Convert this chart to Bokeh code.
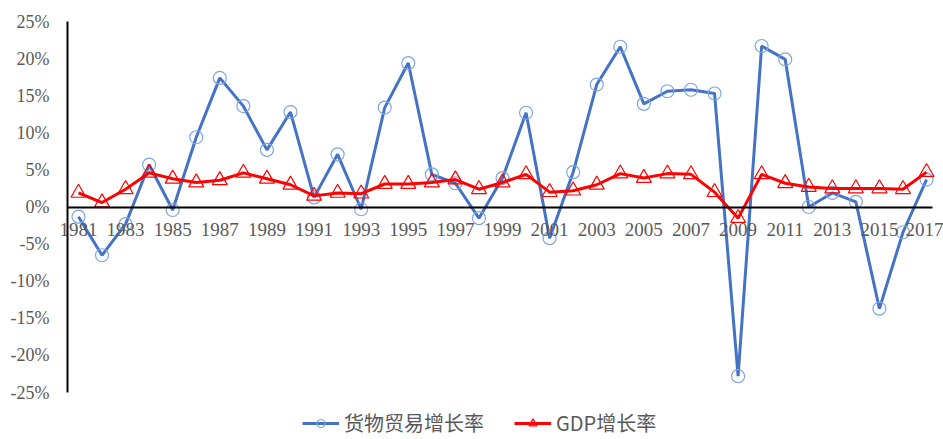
from bokeh.plotting import figure
from bokeh.models import FixedTicker, PrintfTickFormatter, Legend, LegendItem
from bokeh.embed import file_html
from bokeh.resources import INLINE

years = list(range(1981, 2018))
trade_growth = [-1.3, -6.5, -2.3, 5.7, -0.4, 9.4, 17.4, 13.6, 7.7, 12.8,
                1.3, 7.1, -0.3, 13.4, 19.4, 4.4, 3.2, -1.5, 3.9, 12.7,
                -4.2, 4.7, 16.5, 21.6, 13.9, 15.6, 15.8, 15.3, -22.8, 21.7,
                19.9, 0.0, 1.9, 0.7, -13.7, -3.4, 3.7]
gdp_growth = [1.9, 0.6, 2.4, 4.6, 3.8, 3.3, 3.6, 4.6, 3.8, 3.0,
              1.5, 1.9, 1.8, 3.1, 3.1, 3.3, 3.7, 2.4, 3.3, 4.4,
              2.0, 2.2, 3.0, 4.5, 3.9, 4.5, 4.4, 2.0, -1.5, 4.4,
              3.2, 2.7, 2.5, 2.5, 2.5, 2.4, 4.7]
x_ticks = list(range(1981, 2018, 2))
y_ticks = list(range(-25, 30, 5))
series_names = ["货物贸易增长率", "GDP增长率"]

BLUE = "#4472C4"
RED = "#FF0000"
GRAY = "#595959"

# axis extents (data units); the drawing area spans the whole canvas so that
# tick labels and the legend are never clipped
X_AXIS_START, X_AXIS_END = 1980.53, 2017.25
Y_AXIS_MIN, Y_AXIS_MAX = -25, 25

p = figure(width=943, height=439, output_backend="svg", toolbar_location=None,
           x_range=(1977.69, 2017.72), y_range=(-31.33, 27.83),
           min_border=0)
p.outline_line_color = None
p.grid.visible = False

l1 = p.line(years, trade_growth, line_color=BLUE, line_width=3)
s1 = p.scatter(years, trade_growth, marker="circle", size=13, fill_color=None,
               line_color="#7EA6E0", line_width=1.2)
l2 = p.line(years, gdp_growth, line_color=RED, line_width=3)
s2 = p.scatter(years, gdp_growth, marker="triangle", size=15, fill_color=None,
               line_color=RED, line_width=1.2)

xa = p.xaxis[0]
xa.fixed_location = 0
xa.bounds = (X_AXIS_START, X_AXIS_END)
xa.ticker = FixedTicker(ticks=x_ticks)
xa.axis_line_color = "black"
xa.axis_line_width = 2
xa.major_tick_line_color = None
xa.minor_tick_line_color = None
xa.major_label_text_font = "Liberation Serif"
xa.major_label_text_font_size = "19px"
xa.major_label_text_color = GRAY
xa.major_label_standoff = 10

ya = p.yaxis[0]
ya.fixed_location = X_AXIS_START
ya.bounds = (Y_AXIS_MIN, Y_AXIS_MAX)
ya.ticker = FixedTicker(ticks=y_ticks)
ya.formatter = PrintfTickFormatter(format="%d%%")
ya.axis_line_color = "black"
ya.axis_line_width = 2
ya.major_tick_line_color = None
ya.minor_tick_line_color = None
ya.major_label_text_font = "Liberation Serif"
ya.major_label_text_font_size = "18px"
ya.major_label_text_color = GRAY
ya.major_label_standoff = 12

legend = Legend(items=[LegendItem(label=series_names[0], renderers=[l1, s1]),
                       LegendItem(label=series_names[1], renderers=[l2, s2])],
                orientation="horizontal", location=(302, 2),
                label_text_font="Noto Sans CJK SC", label_text_font_size="20px",
                label_text_color=GRAY, glyph_width=37, glyph_height=20,
                spacing=30, border_line_color=None, background_fill_alpha=0,
                padding=3, label_standoff=5)
p.add_layout(legend, "center")

open("out.html", "w").write(file_html(p, INLINE))
